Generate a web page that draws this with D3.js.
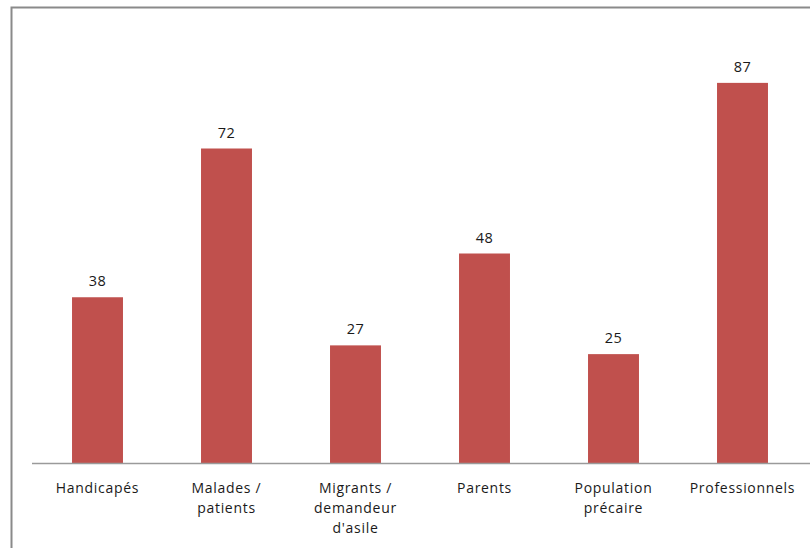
<!DOCTYPE html>
<html>
<head>
<meta charset="utf-8">
<script src="https://cdn.jsdelivr.net/npm/d3@7"></script>
<style>
  html, body { margin: 0; padding: 0; background: #fff; }
  svg { display: block; }
  text { font-family: "Open Sans", "Liberation Sans", sans-serif; fill: #1a1a1a; }
</style>
</head>
<body>
<svg id="chart" width="810" height="548"></svg>
<script>
const categories = [
  ["Handicapés"],
  ["Malades /", "patients"],
  ["Migrants /", "demandeur", "d'asile"],
  ["Parents"],
  ["Population", "précaire"],
  ["Professionnels"]
];
const values = [38, 72, 27, 48, 25, 87];

const W = 810, H = 548;
const svg = d3.select("#chart");

// chart area border (left and top visible)
svg.append("rect")
  .attr("x", 11.5).attr("y", 7.5)
  .attr("width", 820).attr("height", 560)
  .attr("fill", "none")
  .attr("stroke", "#8a8a8a")
  .attr("stroke-width", 2);

const keys = categories.map((c, i) => i);
const x = d3.scaleBand().domain(keys).range([33, 807]).padding(0);
const y = d3.scaleLinear().domain([0, 100]).range([463.5, 26]);
const barW = x.bandwidth() * 0.395;

svg.selectAll("rect.bar")
  .data(values)
  .join("rect")
  .attr("class", "bar")
  .attr("x", (d, i) => x(i) + (x.bandwidth() - barW) / 2)
  .attr("y", d => y(d))
  .attr("width", barW)
  .attr("height", d => y(0) - y(d))
  .attr("fill", "#C0504D");

// baseline axis
const axis = d3.axisBottom(x).tickSize(0).tickFormat("");
const ag = svg.append("g").attr("transform", `translate(0,${y(0)})`).call(axis);
ag.select(".domain").attr("stroke", "#9a9a9a").attr("stroke-width", 1.5)
  .attr("d", "M32,0H810");

// value labels
svg.selectAll("text.val")
  .data(values)
  .join("text")
  .attr("class", "val")
  .attr("x", (d, i) => x(i) + x.bandwidth() / 2)
  .attr("y", d => y(d) - 11)
  .attr("text-anchor", "middle")
  .attr("font-size", 14.5)
  .attr("letter-spacing", 0.5)
  .text(d => d);

// category labels
const cg = svg.selectAll("text.cat")
  .data(categories)
  .join("text")
  .attr("class", "cat")
  .attr("text-anchor", "middle")
  .attr("font-size", 14)
  .attr("letter-spacing", 0.7)
  .attr("x", (d, i) => x(i) + x.bandwidth() / 2)
  .attr("y", 493);
cg.selectAll("tspan")
  .data((d, i) => d.map(t => ({t, i})))
  .join("tspan")
  .attr("x", d => x(d.i) + x.bandwidth() / 2)
  .attr("dy", (d, j) => j === 0 ? 0 : 20)
  .text(d => d.t);
</script>
</body>
</html>
